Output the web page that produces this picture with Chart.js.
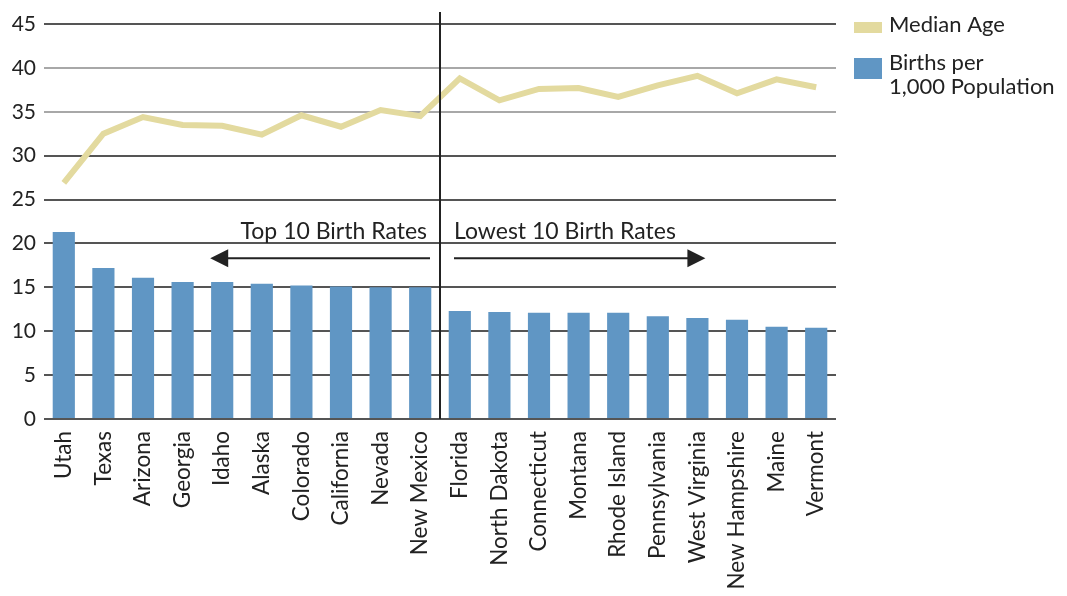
<!DOCTYPE html>
<html>
<head>
<meta charset="utf-8">
<script src="https://cdn.jsdelivr.net/npm/chart.js@4/dist/chart.umd.min.js"></script>
<style>
  html, body { margin: 0; padding: 0; background: #fff; }
  #wrap { width: 1067px; height: 596px; }
</style>
</head>
<body>
<div id="wrap"><canvas id="birthChart" width="1067" height="596"></canvas></div>
<script>
// states, top 10 birth rates then lowest 10
const states = ['Utah', 'Texas', 'Arizona', 'Georgia', 'Idaho', 'Alaska', 'Colorado', 'California', 'Nevada', 'New Mexico',
  'Florida', 'North Dakota', 'Connecticut', 'Montana', 'Rhode Island', 'Pennsylvania', 'West Virginia', 'New Hampshire', 'Maine', 'Vermont'];
const birthsPer1000 = [21.3, 17.2, 16.1, 15.6, 15.6, 15.4, 15.2, 15.1, 15.0, 15.0,
  12.3, 12.2, 12.1, 12.1, 12.1, 11.7, 11.5, 11.3, 10.5, 10.4];
const medianAge = [26.9, 32.5, 34.4, 33.5, 33.4, 32.4, 34.6, 33.3, 35.2, 34.5,
  38.8, 36.3, 37.6, 37.7, 36.7, 38.0, 39.1, 37.1, 38.7, 37.8];
const yTicks = [0, 5, 10, 15, 20, 25, 30, 35, 40, 45];

const FONT = 'Lato, "Open Sans", sans-serif';
const lineColor = '#e3da9f';
const barColor = '#6096c4';

// divider line, group notes with arrows, and the legend on the right
const extras = {
  id: 'extras',
  afterDatasetsDraw(chart) {
    const { ctx, chartArea, scales: { x, y } } = chart;
    const mid = (x.getPixelForTick(9) + x.getPixelForTick(10)) / 2;
    ctx.save();

    // vertical divider
    ctx.strokeStyle = '#222';
    ctx.lineWidth = 2;
    ctx.beginPath();
    ctx.moveTo(mid, chartArea.top - 12);
    ctx.lineTo(mid, chartArea.bottom);
    ctx.stroke();

    // group notes
    ctx.fillStyle = '#222';
    ctx.font = '23px ' + FONT;
    ctx.textBaseline = 'alphabetic';
    const textY = y.getPixelForValue(20.5);
    ctx.textAlign = 'right';
    ctx.fillText('Top 10 Birth Rates', mid - 13, textY);
    ctx.textAlign = 'left';
    ctx.fillText('Lowest 10 Birth Rates', mid + 14, textY);

    const arrowY = y.getPixelForValue(18.3);
    const leftEnd = x.getPixelForTick(4) - 12;
    const rightEnd = x.getPixelForTick(16) + 8;
    ctx.lineWidth = 2;
    ctx.beginPath();
    ctx.moveTo(mid - 10, arrowY);
    ctx.lineTo(leftEnd + 14, arrowY);
    ctx.moveTo(mid + 14, arrowY);
    ctx.lineTo(rightEnd - 14, arrowY);
    ctx.stroke();
    ctx.beginPath();
    ctx.moveTo(leftEnd, arrowY);
    ctx.lineTo(leftEnd + 18, arrowY - 9);
    ctx.lineTo(leftEnd + 18, arrowY + 9);
    ctx.closePath();
    ctx.moveTo(rightEnd, arrowY);
    ctx.lineTo(rightEnd - 18, arrowY - 9);
    ctx.lineTo(rightEnd - 18, arrowY + 9);
    ctx.closePath();
    ctx.fill();

    // legend
    const lx = chartArea.right + 18;
    const items = chart.data.datasets.slice().sort((a, b) => a.order - b.order);
    let ly = chartArea.top - 2;
    ctx.textAlign = 'left';
    ctx.textBaseline = 'top';
    ctx.font = '22px ' + FONT;
    items.forEach(ds => {
      const lines = ds.legendText;
      ctx.fillStyle = ds.type === 'line' ? ds.borderColor : ds.backgroundColor;
      if (ds.type === 'line') {
        ctx.fillRect(lx, ly, 28, 11);
      } else {
        ctx.fillRect(lx, ly - 2, 28, 21);
      }
      ctx.fillStyle = '#222';
      lines.forEach((t, i) => ctx.fillText(t, lx + 35, ly - 8 + i * 24));
      ly += 38;
    });
    ctx.restore();
  }
};

new Chart(document.getElementById('birthChart'), {
  data: {
    labels: states,
    datasets: [
      {
        type: 'line',
        label: 'Median Age',
        legendText: ['Median Age'],
        data: medianAge,
        borderColor: lineColor,
        backgroundColor: lineColor,
        borderWidth: 6,
        pointRadius: 0,
        tension: 0,
        order: 0
      },
      {
        type: 'bar',
        label: 'Births per 1,000 Population',
        legendText: ['Births per', '1,000 Population'],
        data: birthsPer1000,
        backgroundColor: barColor,
        barPercentage: 0.56,
        categoryPercentage: 1,
        order: 1
      }
    ]
  },
  options: {
    responsive: false,
    animation: false,
    layout: { padding: { top: 24, right: 231, left: 0, bottom: 0 } },
    plugins: {
      legend: { display: false },
      tooltip: { enabled: false }
    },
    scales: {
      x: {
        grid: { display: false },
        border: { display: false },
        ticks: {
          color: '#222',
          font: { family: FONT, size: 22.5 },
          minRotation: 90,
          maxRotation: 90,
          padding: 4,
          autoSkip: false
        },
        afterFit(scale) { scale.height = 177; }
      },
      y: {
        min: 0,
        max: 45,
        afterBuildTicks(scale) { scale.ticks = yTicks.map(v => ({ value: v })); },
        grid: {
          color: ctx => (ctx.tick && (ctx.tick.value === 35 || ctx.tick.value === 40)) ? '#a8a8a8' : '#555',
          lineWidth: 2,
          drawTicks: false
        },
        border: { display: false },
        ticks: {
          color: '#222',
          font: { family: FONT, size: 21 },
          padding: 8
        },
        afterFit(scale) { scale.width = 44; }
      }
    }
  },
  plugins: [extras]
});
</script>
</body>
</html>
